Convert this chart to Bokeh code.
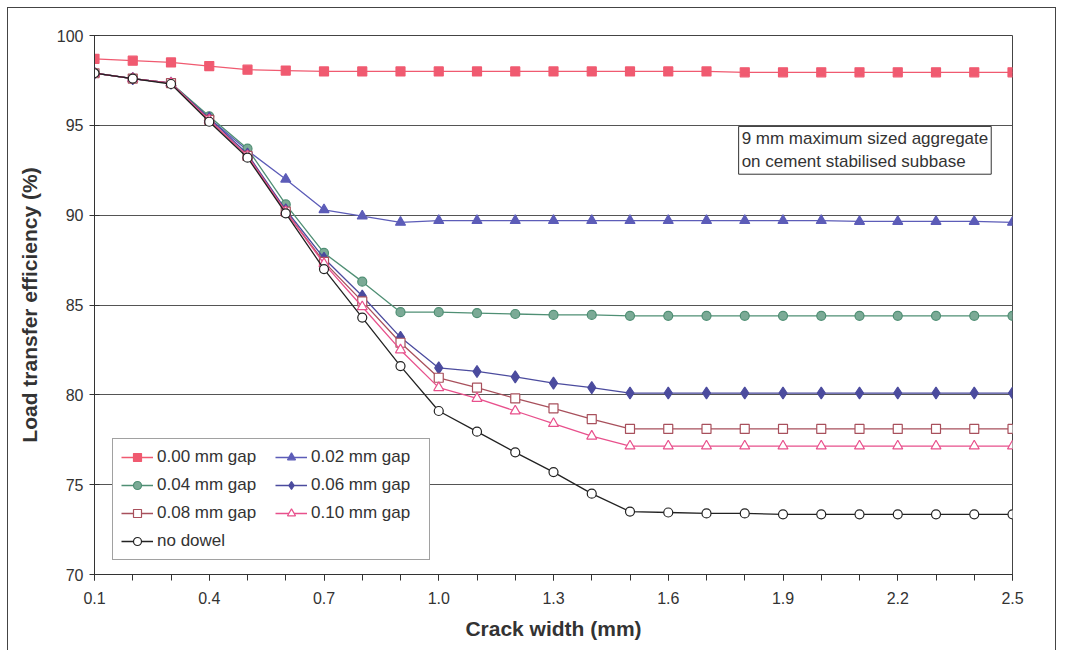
from bokeh.plotting import figure
from bokeh.models import Range1d, FixedTicker, Legend, LegendItem, Label
from bokeh.embed import file_html
from bokeh.resources import INLINE

crack_width = [0.1, 0.2, 0.3, 0.4, 0.5, 0.6, 0.7, 0.8, 0.9, 1.0, 1.1, 1.2, 1.3,
               1.4, 1.5, 1.6, 1.7, 1.8, 1.9, 2.0, 2.1, 2.2, 2.3, 2.4, 2.5]

gap_000 = [98.7, 98.6, 98.5, 98.3, 98.1, 98.05, 98.0, 98.0, 98.0, 98.0, 98.0, 98.0, 98.0,
           98.0, 98.0, 98.0, 98.0, 97.95, 97.95, 97.95, 97.95, 97.95, 97.95, 97.95, 97.95]
gap_002 = [97.9, 97.6, 97.35, 95.4, 93.6, 92.0, 90.3, 89.95, 89.6, 89.7, 89.7, 89.7, 89.7,
           89.7, 89.7, 89.7, 89.7, 89.7, 89.7, 89.7, 89.65, 89.65, 89.65, 89.65, 89.6]
gap_004 = [97.9, 97.6, 97.35, 95.5, 93.7, 90.6, 87.9, 86.3, 84.6, 84.6, 84.55, 84.5, 84.45,
           84.45, 84.4, 84.4, 84.4, 84.4, 84.4, 84.4, 84.4, 84.4, 84.4, 84.4, 84.4]
gap_006 = [97.9, 97.6, 97.35, 95.4, 93.4, 90.3, 87.6, 85.5, 83.2, 81.5, 81.3, 81.0, 80.65,
           80.4, 80.1, 80.1, 80.1, 80.1, 80.1, 80.1, 80.1, 80.1, 80.1, 80.1, 80.1]
gap_008 = [97.9, 97.6, 97.35, 95.3, 93.3, 90.2, 87.4, 85.2, 82.9, 80.95, 80.4, 79.8, 79.25,
           78.65, 78.1, 78.1, 78.1, 78.1, 78.1, 78.1, 78.1, 78.1, 78.1, 78.1, 78.1]
gap_010 = [97.9, 97.6, 97.35, 95.3, 93.3, 90.2, 87.3, 84.9, 82.5, 80.4, 79.8, 79.1, 78.4,
           77.7, 77.15, 77.15, 77.15, 77.15, 77.15, 77.15, 77.15, 77.15, 77.15, 77.15, 77.15]
no_dowel = [97.9, 97.6, 97.3, 95.2, 93.2, 90.1, 87.0, 84.3, 81.6, 79.1, 77.95, 76.8, 75.7,
            74.5, 73.5, 73.45, 73.4, 73.4, 73.35, 73.35, 73.35, 73.35, 73.35, 73.35, 73.35]

x_major_ticks = [0.1, 0.4, 0.7, 1.0, 1.3, 1.6, 1.9, 2.2, 2.5]
x_minor_ticks = crack_width
y_ticks = [70, 75, 80, 85, 90, 95, 100]

series = {
    "0.00 mm gap": (gap_000, "square", "#F05A70", "#F05A70", 9),
    "0.02 mm gap": (gap_002, "triangle", "#5C5CB8", "#5C5CB8", 10),
    "0.04 mm gap": (gap_004, "circle", "#4F8F74", "#7BAA96", 9),
    "0.06 mm gap": (gap_006, "diamond", "#4B4B9E", "#4B4B9E", 12),
    "0.08 mm gap": (gap_008, "square", "#A8505C", None, 9),
    "0.10 mm gap": (gap_010, "triangle", "#E8508C", None, 10),
    "no dowel": (no_dowel, "circle", "#222222", None, 9),
}
# legend filled column by column: left column then right column
legend_order = ["0.00 mm gap", "0.04 mm gap", "0.08 mm gap", "no dowel",
                "0.02 mm gap", "0.06 mm gap", "0.10 mm gap"]

OX, OY = 8, 8  # figure content origin on the page
W, H = 1049, 646
p = figure(width=W, height=H, output_backend="svg", toolbar_location=None,
           x_range=Range1d(0.1, 2.5), y_range=Range1d(70, 100),
           min_border_left=94 - OX, min_border_right=W - (1012 - OX),
           min_border_top=35 - OY, min_border_bottom=H - (574 - OY))
p.styles = {"border": "1px solid #444444", "margin": "7px 0 0 7px"}
p.background_fill_color = "white"
p.border_fill_color = "white"
p.outline_line_color = "#444444"
p.outline_line_width = 1

p.xgrid.grid_line_color = None
p.ygrid.grid_line_color = "#555555"
p.ygrid.grid_line_width = 1

p.xaxis.ticker = FixedTicker(ticks=x_major_ticks, minor_ticks=x_minor_ticks)
p.yaxis.ticker = FixedTicker(ticks=y_ticks, minor_ticks=[])
p.xaxis.major_label_overrides = {t: f"{t:.1f}" for t in x_major_ticks}

for ax in (p.xaxis[0], p.yaxis[0]):
    ax.axis_line_color = "#333333"
    ax.major_tick_line_color = "#333333"
    ax.minor_tick_line_color = "#333333"
    ax.major_label_text_font = "Liberation Sans"
    ax.major_label_text_font_size = "16px"
    ax.major_label_text_color = "#333333"
    ax.axis_label_text_font = "Liberation Sans"
    ax.axis_label_text_font_style = "bold"
    ax.axis_label_text_font_size = "21px"
    ax.axis_label_text_color = "#333333"

p.xaxis.major_tick_in = 0
p.xaxis.major_tick_out = 6
p.xaxis.minor_tick_in = 0
p.xaxis.minor_tick_out = 6
p.xaxis.major_label_standoff = 11
p.yaxis.major_tick_in = 5
p.yaxis.major_tick_out = 5
p.yaxis.minor_tick_line_color = None
p.yaxis.major_label_standoff = 6

p.xaxis.axis_label = "Crack width (mm)"
p.yaxis.axis_label = "Load transfer efficiency (%)"
p.xaxis.axis_label_standoff = 10
p.yaxis.axis_label_standoff = 13

renderers = {}
for name, (vals, marker, color, fill, size) in series.items():
    lr = p.line(crack_width, vals, line_color=color, line_width=1.3)
    mr = p.scatter(crack_width, vals, marker=marker, size=size, line_color=color,
                   fill_color=fill if fill else "white", line_width=1.2)
    renderers[name] = [lr, mr]

items = [LegendItem(label=n, renderers=renderers[n]) for n in legend_order]
legend = Legend(items=items, location=(18, 14), ncols=2,
                label_text_font="Liberation Sans", label_text_font_size="17px",
                label_text_color="#333333", glyph_width=32, glyph_height=20,
                label_height=20, label_width=110, spacing=8, padding=8, margin=0,
                label_standoff=4, border_line_color="#444444", border_line_width=1,
                background_fill_color="white", background_fill_alpha=1)
p.add_layout(legend, "center")

note = Label(x=1.784, y=94.94, text="9 mm maximum sized aggregate\non cement stabilised subbase",
             text_font="Liberation Sans", text_font_size="17px", text_color="#333333",
             text_align="left", text_baseline="top",
             border_line_color="#333333", border_line_width=1,
             background_fill_color="white", padding=3)
p.add_layout(note)

open("out.html", "w").write(file_html(p, INLINE))
